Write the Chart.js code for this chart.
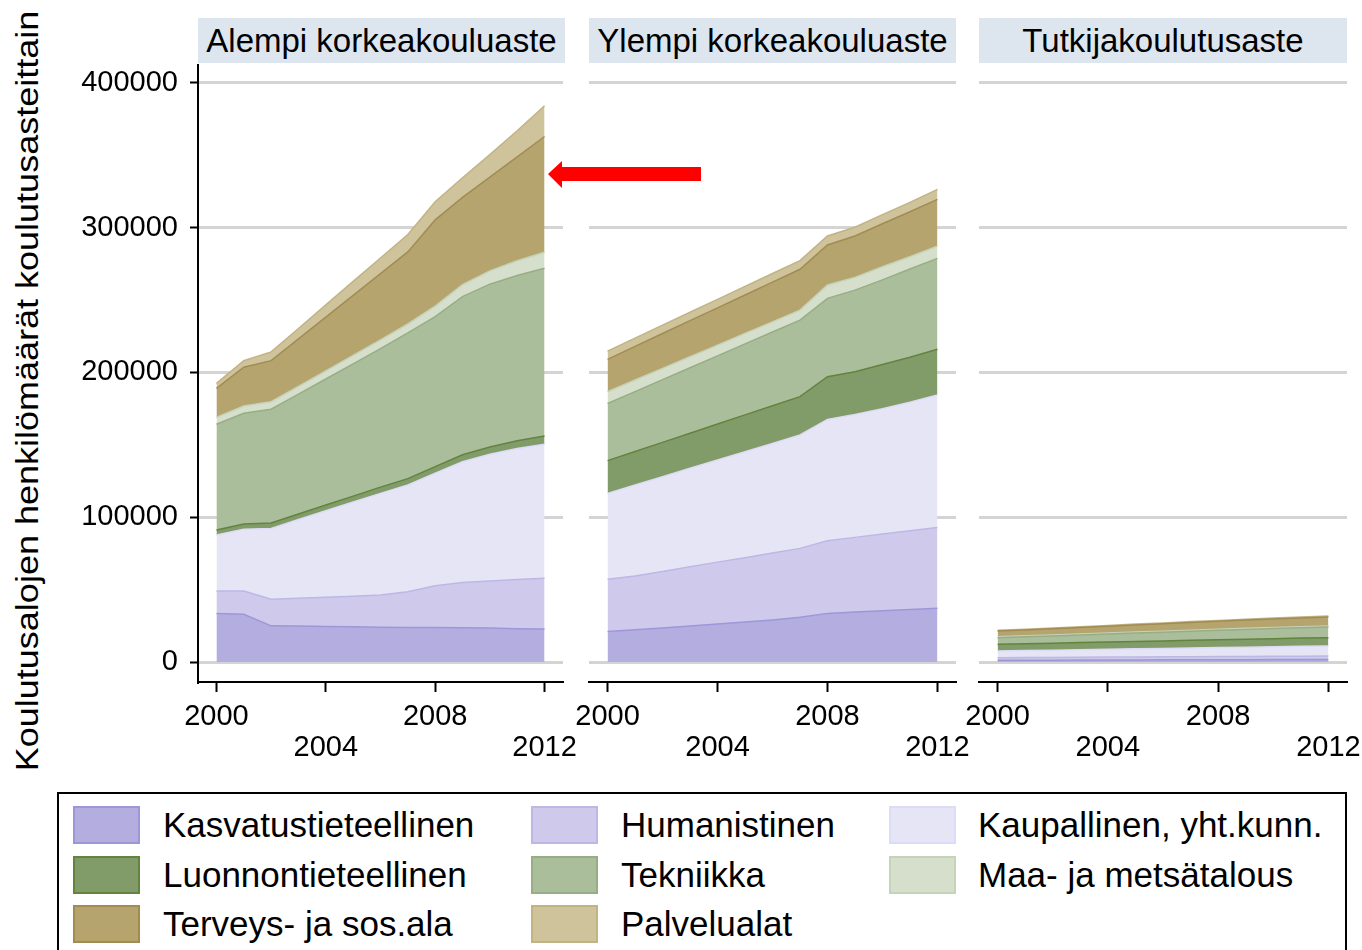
<!DOCTYPE html>
<html>
<head>
<meta charset="utf-8">
<script src="https://cdn.jsdelivr.net/npm/chart.js@4"></script>
<style>
  body { margin: 0; background: #fff; font-family: "Liberation Sans", Arial, sans-serif; }
  #wrap { position: relative; width: 1362px; height: 950px; overflow: hidden; }
  canvas { position: absolute; top: 0; }
  .strip { position: absolute; top: 18px; height: 45px; line-height: 45px; background: #dde5ef;
           font-size: 33px; text-align: center; color: #000; white-space: nowrap; }
  #ytitle { position: absolute; left: -373px; top: 371px; width: 800px; height: 40px; line-height: 40px;
            font-size: 32px; text-align: center; transform: rotate(-90deg) scaleX(1.125); white-space: nowrap; }
  #legend { position: absolute; left: 57px; top: 792px; width: 1286px; height: 200px; border: 2px solid #000; }
  .sw { position: absolute; width: 63px; height: 34px; border: 2px solid; }
  .lt { position: absolute; font-size: 35px; line-height: 40px; white-space: nowrap; }
  #arrow { position: absolute; left: 0; top: 0; pointer-events: none; }
</style>
</head>
<body>
<div id="wrap">
  <div id="ytitle">Koulutusalojen henkilömäärät koulutusasteittain</div>
  <div class="strip" style="left:198px;width:367px">Alempi korkeakouluaste</div>
  <div class="strip" style="left:589px;width:367px">Ylempi korkeakouluaste</div>
  <div class="strip" style="left:979px;width:368px">Tutkijakoulutusaste</div>
  <canvas id="c1" width="591" height="780" style="left:0"></canvas>
  <canvas id="c2" width="423" height="780" style="left:561px"></canvas>
  <canvas id="c3" width="424" height="780" style="left:951px"></canvas>
  <div id="legend"></div>
  <svg id="arrow" width="1362" height="950">
    <polygon points="548,174 562,161 562,167 701,167 701,181 562,181 562,188" fill="#ff0000"/>
  </svg>
</div>
<script>
const years = [2000, 2001, 2002, 2003, 2004, 2005, 2006, 2007, 2008, 2009, 2010, 2011, 2012];
const xTicks = [2000, 2004, 2008, 2012];
const yTicks = [0, 100000, 200000, 300000, 400000];

const seriesNames = ['Kasvatustieteellinen', 'Humanistinen', 'Kaupallinen, yht.kunn.',
    'Luonnontieteellinen', 'Tekniikka', 'Maa- ja metsätalous', 'Terveys- ja sos.ala', 'Palvelualat'];
const fillColors = ['#b3aedf', '#cfcaec', '#e6e5f6', '#819c69', '#abbe9b', '#d5dfcc', '#b6a46f', '#cfc39c'];
const lineColors = ['#9d97da', '#bdb7e6', '#dddcf6', '#62843f', '#97ae84', '#c5d3b9', '#a18c52', '#c2b383'];

// Alempi korkeakouluaste
const alempiKasvatus = [33500, 33000, 25000, 24800, 24600, 24400, 24000, 23800, 23800, 23700, 23500, 23000, 22800];
const alempiHumanistinen = [15500, 16000, 18300, 19200, 20100, 21000, 22300, 24800, 28900, 31300, 32500, 34000, 35000];
const alempiKaupallinen = [38700, 42700, 49000, 54500, 59800, 65100, 70200, 73700, 77700, 83400, 87500, 90500, 92600];
const alempiLuonnon = [3500, 3600, 3700, 3800, 4000, 4100, 4300, 4400, 4600, 4800, 5000, 5300, 5700];
const alempiTekniikka = [73000, 76500, 78600, 82700, 87000, 91400, 95700, 100600, 103600, 109200, 112500, 114200, 115900];
const alempiMaa = [4800, 5000, 5200, 5400, 5600, 5800, 6000, 6200, 7200, 8200, 9200, 10200, 11000];
const alempiTerveys = [20000, 26800, 28400, 32800, 37200, 41500, 45800, 49800, 59600, 60400, 64800, 71800, 80000];
const alempiPalvelu = [3500, 4500, 6000, 7200, 8400, 9600, 10800, 12000, 12500, 13500, 15500, 18000, 21300];

// Ylempi korkeakouluaste
const ylempiKasvatus = [21000, 22300, 23500, 24900, 26300, 27600, 29100, 30900, 33600, 34500, 35400, 36200, 37100];
const ylempiHumanistinen = [36100, 37100, 39100, 40900, 42700, 44500, 46200, 47600, 50200, 51600, 53000, 54500, 55900];
const ylempiKaupallinen = [59400, 62900, 65400, 68000, 70500, 73200, 75700, 78300, 83800, 84900, 86600, 88800, 91500];
const ylempiLuonnon = [22600, 23100, 23700, 24200, 24900, 25400, 26000, 26500, 29500, 29500, 30500, 31000, 31500];
const ylempiTekniikka = [39500, 41400, 43400, 45300, 47100, 49100, 51000, 52900, 54100, 56400, 58500, 61000, 62800];
const ylempiMaa = [8100, 8000, 7700, 7600, 7400, 7200, 7000, 6900, 9200, 8800, 9000, 8500, 8500];
const ylempiTerveys = [22400, 23200, 24100, 24900, 25700, 26500, 27400, 28200, 27700, 28600, 29700, 31000, 32300];
const ylempiPalvelu = [5700, 5700, 5800, 5800, 5900, 6000, 6000, 6000, 6200, 6000, 6300, 6500, 6900];

// Tutkijakoulutusaste
const tutkijaKasvatus = [1200, 1250, 1300, 1350, 1400, 1450, 1500, 1550, 1600, 1650, 1700, 1750, 1800];
const tutkijaHumanistinen = [1800, 1850, 1900, 1950, 2000, 2050, 2100, 2150, 2200, 2200, 2250, 2300, 2300];
const tutkijaKaupallinen = [4600, 4800, 5000, 5200, 5400, 5600, 5800, 6000, 6200, 6400, 6600, 6800, 6900];
const tutkijaLuonnon = [4600, 4700, 4800, 4900, 5000, 5100, 5200, 5300, 5400, 5500, 5600, 5700, 5800];
const tutkijaTekniikka = [4600, 4800, 5000, 5300, 5500, 5800, 6000, 6300, 6500, 6800, 7000, 7200, 7400];
const tutkijaMaa = [700, 700, 700, 700, 700, 700, 700, 700, 700, 700, 700, 700, 700];
const tutkijaTerveys = [3900, 4100, 4300, 4500, 4700, 4900, 5100, 5300, 5500, 5700, 5900, 6000, 6200];
const tutkijaPalvelu = [500, 500, 550, 550, 600, 600, 600, 650, 650, 650, 700, 700, 700];

Chart.defaults.font.family = '"Liberation Sans", Arial, sans-serif';
Chart.defaults.color = '#000';

function makeDatasets(arrays) {
    return arrays.map(function (vals, i) {
        return {
            label: seriesNames[i],
            data: vals.map(function (v, j) { return { x: years[j], y: v }; }),
            backgroundColor: fillColors[i],
            borderColor: lineColors[i],
            borderWidth: 1.5,
            pointRadius: 0,
            tension: 0,
            fill: i === 0 ? 'origin' : '-1'
        };
    });
}

function makePanel(id, arrays, first, padL, padR) {
    new Chart(document.getElementById(id).getContext('2d'), {
        type: 'line',
        data: { datasets: makeDatasets(arrays) },
        options: {
            responsive: false,
            animation: false,
            devicePixelRatio: 1,
            layout: { padding: { top: 65, left: padL, right: padR, bottom: 0 } },
            plugins: { legend: { display: false }, tooltip: { enabled: false } },
            scales: {
                x: {
                    type: 'linear',
                    min: 1999.325,
                    max: 2012.675,
                    afterBuildTicks: function (s) { s.ticks = xTicks.map(function (v) { return { value: v }; }); },
                    afterFit: function (s) { s.height = 98; },
                    ticks: {
                        autoSkip: false, maxRotation: 0, padding: 10,
                        font: { size: 29, lineHeight: 1.05 },
                        callback: function (v) { return (v === 2004 || v === 2012) ? ['', String(v)] : String(v); }
                    },
                    grid: { drawOnChartArea: false, drawTicks: true, tickLength: 10, tickColor: '#000', tickWidth: 2 },
                    border: { color: '#000', width: 2 }
                },
                y: {
                    stacked: true,
                    min: -13800,
                    max: 412400,
                    afterBuildTicks: function (s) { s.ticks = yTicks.map(function (v) { return { value: v }; }); },
                    afterFit: function (s) { s.width = first ? 198 : 0; },
                    ticks: {
                        display: first, padding: 12,
                        font: { size: 29 },
                        callback: function (v) { return String(v); }
                    },
                    grid: { color: '#d4d4d4', lineWidth: 3, drawTicks: first, tickLength: 8, tickColor: '#000', tickWidth: 2 },
                    border: { display: first, color: '#000', width: 2 }
                }
            }
        }
    });
}

makePanel('c1', [alempiKasvatus, alempiHumanistinen, alempiKaupallinen, alempiLuonnon,
    alempiTekniikka, alempiMaa, alempiTerveys, alempiPalvelu], true, 0, 28);
makePanel('c2', [ylempiKasvatus, ylempiHumanistinen, ylempiKaupallinen, ylempiLuonnon,
    ylempiTekniikka, ylempiMaa, ylempiTerveys, ylempiPalvelu], false, 28, 28);
makePanel('c3', [tutkijaKasvatus, tutkijaHumanistinen, tutkijaKaupallinen, tutkijaLuonnon,
    tutkijaTekniikka, tutkijaMaa, tutkijaTerveys, tutkijaPalvelu], false, 28, 28);

// legend (3 columns, row-wise order)
const legend = document.getElementById('legend');
const colX = [[14, 104], [472, 562], [830, 919]];
const rowY = [12, 62, 111];
seriesNames.forEach(function (name, i) {
    const c = i % 3, r = Math.floor(i / 3);
    const sw = document.createElement('div');
    sw.className = 'sw';
    sw.style.left = colX[c][0] + 'px';
    sw.style.top = rowY[r] + 'px';
    sw.style.background = fillColors[i];
    sw.style.borderColor = lineColors[i];
    legend.appendChild(sw);
    const t = document.createElement('div');
    t.className = 'lt';
    t.style.left = colX[c][1] + 'px';
    t.style.top = (rowY[r] - 1) + 'px';
    t.textContent = name;
    legend.appendChild(t);
});
</script>
</body>
</html>
